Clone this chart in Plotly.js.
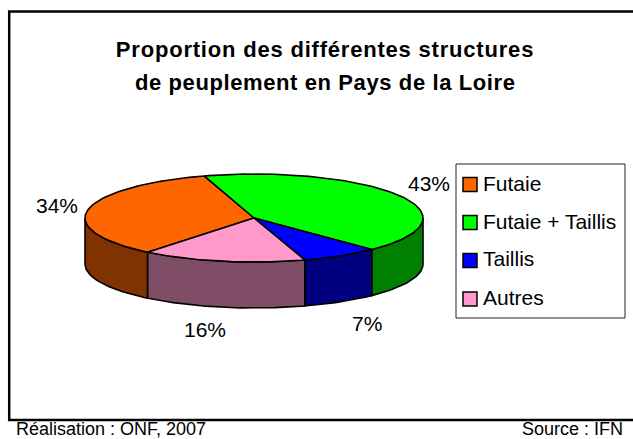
<!DOCTYPE html>
<html><head><meta charset="utf-8">
<script src="https://cdn.plot.ly/plotly-3.0.0.min.js"></script>
<style>html,body{margin:0;padding:0;background:#fff}#c{width:633px;height:439px}
.gtitle{letter-spacing:0.8px}</style>
</head><body><div id="c"></div>
<script>
const titleLine1 = 'Proportion des différentes structures';
const titleLine2 = 'de peuplement en Pays de la Loire';
const categories = ['Futaie','Futaie + Taillis','Taillis','Autres'];
const values = [34.4, 42.5, 7.4, 15.7];
const topColors = ['#FF6600','#00FF00','#0000FF','#FF99CC'];
const sideColors = ['#803300','#008000','#000080','#804D66'];
const labelXY = [[57,205],[429,183],[367,323],[205,329]];
const credit = 'Réalisation : ONF, 2007';
const source = 'Source : IFN';

const FONT = '"Liberation Sans", Arial, sans-serif';
const cx=254, cy=218, rx=169, ry=44, depth=46, startDeg=231;
const total = values.reduce((a,b)=>a+b,0);
const pt=(deg,dy)=>{const r=deg*Math.PI/180;return [cx+rx*Math.cos(r), cy-ry*Math.sin(r)+(dy||0)];};
const arc=(a,b,dy)=>{const n=Math.max(2,Math.ceil(Math.abs(b-a)/1.5));const o=[];for(let i=0;i<=n;i++)o.push(pt(a+(b-a)*i/n,dy));return o;};

const traces=[];
const tops=[];
let a=startDeg;
values.forEach((v,i)=>{
  const b=a-v/total*360;
  const ranges=[[Math.min(a,360),Math.max(b,180)],[Math.min(a,0),Math.max(b,-180)]];
  ranges.forEach(r=>{
    if(r[0]>r[1]){
      const front=arc(r[0],r[1],0), back=arc(r[1],r[0],depth);
      const p=front.concat(back,[front[0]]);
      traces.push({type:'scatter',mode:'lines',x:p.map(q=>q[0]),y:p.map(q=>q[1]),fill:'toself',
        fillcolor:sideColors[i],line:{color:'#000',width:1.6},name:categories[i]+' (side)',hoverinfo:'skip',showlegend:false});
    }
  });
  const p=[[cx,cy]].concat(arc(a,b,0),[[cx,cy]]);
  tops.push({type:'scatter',mode:'lines',x:p.map(q=>q[0]),y:p.map(q=>q[1]),fill:'toself',
    fillcolor:topColors[i],line:{color:'#000',width:1.6},name:categories[i],
    text:categories[i]+': '+Math.round(v)+'%',hoverinfo:'text',showlegend:false});
  a=b;
});
traces.push(...tops);

const shapes=[
  {type:'rect',xref:'x',yref:'y',x0:9.2,x1:645,y0:11.5,y1:420,line:{color:'#000',width:2.5},fillcolor:'rgba(0,0,0,0)',layer:'below'},
  {type:'rect',xref:'x',yref:'y',x0:456,x1:625,y0:164,y1:318,line:{color:'#222',width:1},fillcolor:'#fff',layer:'below'}
];
const rowY=[184.5,222.5,260.5,299];
const textY=[183,221,258,297];
const ann=[];
categories.forEach((c,i)=>{
  shapes.push({type:'rect',xref:'x',yref:'y',x0:463,x1:477,y0:rowY[i]-7,y1:rowY[i]+7,line:{color:'#000',width:1.5},fillcolor:topColors[i]});
  ann.push({xref:'x',yref:'y',x:481,y:textY[i],text:c,showarrow:false,xanchor:'left',yanchor:'middle',font:{family:FONT,size:21,color:'#000'}});
  ann.push({xref:'x',yref:'y',x:labelXY[i][0],y:labelXY[i][1],text:Math.round(values[i])+'%',showarrow:false,xanchor:'center',yanchor:'middle',font:{family:FONT,size:21,color:'#000'}});
});
ann.push({xref:'x',yref:'y',x:325,y:82,text:'<span style="letter-spacing:0.6px">'+titleLine2+'</span>',showarrow:false,xanchor:'center',yanchor:'middle',font:{family:FONT,size:22,color:'#000',weight:700}});
ann.push({xref:'x',yref:'y',x:14,y:429,text:credit,showarrow:false,xanchor:'left',yanchor:'middle',font:{family:FONT,size:18,color:'#000'}});
ann.push({xref:'x',yref:'y',x:625,y:429,text:source,showarrow:false,xanchor:'right',yanchor:'middle',font:{family:FONT,size:18,color:'#000'}});

Plotly.newPlot('c',traces,{
  width:633,height:439,margin:{l:0,r:0,t:0,b:0},paper_bgcolor:'#fff',plot_bgcolor:'#fff',showlegend:false,
  title:{text:titleLine1,x:325/633,xanchor:'center',y:1-49/439,yanchor:'middle',font:{family:FONT,size:22,color:'#000',weight:700}},
  xaxis:{range:[0,633],visible:false,fixedrange:true},
  yaxis:{range:[439,0],visible:false,fixedrange:true},
  shapes:shapes,annotations:ann
},{displayModeBar:false});
</script></body></html>
